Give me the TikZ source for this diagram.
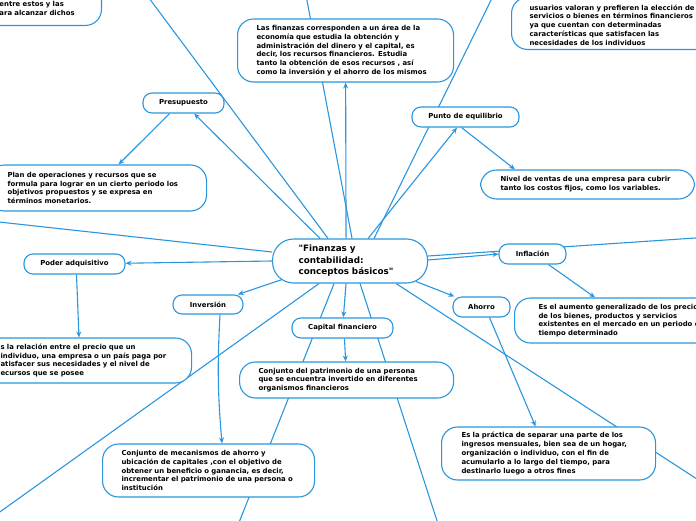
\documentclass[tikz,border=0pt]{standalone}
\usepackage{fontspec}
\setmainfont{DejaVu Sans}
\usepackage{tikz}
\usetikzlibrary{positioning,arrows.meta,backgrounds}
\definecolor{mapblue}{RGB}{42,150,222}

\begin{document}
\begin{tikzpicture}[x=1pt,y=-1pt,
    topic/.style={draw=mapblue,line width=1.1pt,fill=white,rounded corners=9pt,
      font=\bfseries\fontsize{6.9}{8.8}\selectfont,inner sep=0pt,align=center},
    note/.style={topic,rounded corners=16pt,align=left,anchor=west},
    link/.style={mapblue,line width=1.1pt},
    arrowlink/.style={link,-{Stealth[length=6pt,width=5pt]}}]
  \useasboundingbox (0,0) rectangle (696,520);

  % topics
  \node[note,rounded corners=21pt,text width=103pt,inner xsep=26pt,minimum height=44pt,
        font=\bfseries\fontsize{8.8}{11.5}\selectfont]
        (central) at (272,261) {\textquotedbl Finanzas y\\contabilidad:\\conceptos básicos\textquotedbl};
  \node[topic,minimum width=81pt,minimum height=20pt] (presupuesto) at (183.5,103) {Presupuesto};
  \node[topic,minimum width=107pt,minimum height=20pt] (equilibrio) at (465.5,117) {Punto de equilibrio};
  \node[topic,minimum width=101pt,minimum height=20pt] (poder) at (74.5,264) {Poder adquisitivo};
  \node[topic,minimum width=70pt,minimum height=19pt] (inversion) at (208,304.5) {Inversión};
  \node[topic,minimum width=67pt,minimum height=20pt] (inflacion) at (532.5,254) {Inflación};
  \node[topic,minimum width=57pt,minimum height=20pt] (ahorro) at (481.5,307) {Ahorro};
  \node[topic,minimum width=101pt,minimum height=20pt] (capital) at (342.5,328) {Capital financiero};

  % notes
  \node[note,anchor=south east,text width=82pt,inner xsep=20pt,inner ysep=10pt]
        (metas) at (102,26) {\mbox{}\\\mbox{}\\entre estos y las\\ara alcanzar dichos};
  \node[note,text width=178pt,inner xsep=19pt,minimum height=63pt] (finanzas) at (237,50.5)
        {Las finanzas corresponden a un área de la\\economía que estudia la obtención y\\
         administración del dinero y el capital, es\\decir, los recursos financieros. Estudia\\
         tanto la obtención de esos recursos , así\\como la inversión y el ahorro de los mismos};
  \node[note,anchor=south west,text width=200pt,inner xsep=18pt,inner ysep=4pt]
        (preferencia) at (511,50) {\mbox{}\\usuarios valoran y prefieren la elección de\\
         servicios o bienes en términos financieros\\ya que cuentan con determinadas\\
         características que satisfacen las\\necesidades de los individuos};
  \node[note,text width=180pt,inner xsep=19pt,minimum height=46pt] (plan) at (-12,188)
        {Plan de operaciones y recursos que se\\formula para lograr en un cierto periodo los\\
         objetivos propuestos y se expresa en\\términos monetarios.};
  \node[note,text width=174pt,inner xsep=20pt,minimum height=29pt] (ventas) at (480,184.5)
        {Nivel de ventas de una empresa para cubrir\\tanto los costos fijos, como los variables.};
  \node[note,text width=171pt,inner xsep=20pt,minimum height=45pt] (relacion) at (-20,360.5)
        {s la relación entre el precio que un\\individuo, una empresa o un país paga por\\
         atisfacer sus necesidades y el nivel de\\ecursos que se posee};
  \node[note,text width=200pt,inner xsep=24pt,minimum height=45pt] (aumento) at (514,320.5)
        {Es el aumento generalizado de los precios\\de los bienes, productos y servicios\\
         existentes en el mercado en un periodo de\\tiempo determinado};
  \node[note,text width=176pt,inner xsep=19pt,minimum height=36pt] (patrimonio) at (239,380)
        {Conjunto del patrimonio de una persona\\que se encuentra invertido en diferentes\\
         organismos financieros};
  \node[note,text width=174pt,inner xsep=19pt,minimum height=53pt] (mecanismos) at (102,470.5)
        {Conjunto de mecanismos de ahorro y\\ubicación de capitales ,con el objetivo de\\
         obtener un beneficio o ganancia, es decir,\\incrementar el patrimonio de una persona o\\
         institución};
  \node[note,text width=174pt,inner xsep=20pt,minimum height=53pt] (practica) at (441,453.5)
        {Es la práctica de separar una parte de los\\ingresos mensuales, bien sea de un hogar,\\
         organización o individuo, con el fin de\\acumularlo a lo largo del tiempo, para\\
         destinarlo luego a otros fines};

  % free ends off the page
  \coordinate (offnw) at (143,-10);
  \coordinate (offn) at (305,-10);
  \coordinate (offne) at (496,-10);
  \coordinate (offw) at (-10,221);
  \coordinate (offsw) at (-10,519);
  \coordinate (offs) at (236,530);
  \coordinate (offse) at (440,530);
  \coordinate (offe) at (710,237);
  \coordinate (offese) at (720,494);

  \begin{pgfonlayer}{background}
    \draw[arrowlink] ([xshift=-4pt]central.north) -- (finanzas);
    \draw[link] ([xshift=2pt]central.north) -- (offn);
    \draw[arrowlink] ([xshift=-30pt]central.north) -- (presupuesto);
    \draw[link] ([xshift=-22pt]central.north) -- (offnw);
    \draw[arrowlink] ([xshift=18pt]central.north) -- (equilibrio);
    \draw[link] ([xshift=24pt]central.north) -- (offne);
    \draw[arrowlink] ([xshift=-14pt]presupuesto.south) -- ([xshift=21pt]plan.north);
    \draw[arrowlink] ([xshift=-4pt]equilibrio.south) -- ([xshift=35pt]ventas.north west);
    \draw[link] ([yshift=9pt]central.west) -- (offw);
    \draw[arrowlink] (central.west) -- (poder);
    \draw[arrowlink] ([xshift=2pt]poder.south) -- ([xshift=99pt]relacion.north west);
    \draw[arrowlink] ([xshift=10pt,yshift=4pt]central.south west) -- (inversion);
    \draw[arrowlink] ([xshift=12pt]inversion.south) to[bend right=4] ([xshift=120pt]mecanismos.north west);
    \draw[link] ([xshift=-31pt]central.south) -- (offsw);
    \draw[link] ([xshift=-16pt]central.south) -- (offs);
    \draw[arrowlink] ([xshift=-4pt]central.south) -- (capital);
    \draw[link] ([xshift=10pt]central.south) -- (offse);
    \draw[arrowlink] ([xshift=2pt]capital.south) -- (patrimonio);
    \draw[arrowlink] ([xshift=-12pt,yshift=2pt]central.south east) -- (ahorro);
    \draw[link] ([xshift=-32pt]central.south east) -- (offese);
    \draw[arrowlink] ([xshift=8pt]ahorro.south) -- ([xshift=-13pt]practica.north);
    \draw[link] ([yshift=5pt]central.east) -- (offe);
    \draw[arrowlink] ([yshift=1pt]central.east) -- (inflacion.west);
    \draw[arrowlink] ([xshift=16pt]inflacion.south) -- ([xshift=81pt]aumento.north west);
  \end{pgfonlayer}
\end{tikzpicture}
\end{document}
